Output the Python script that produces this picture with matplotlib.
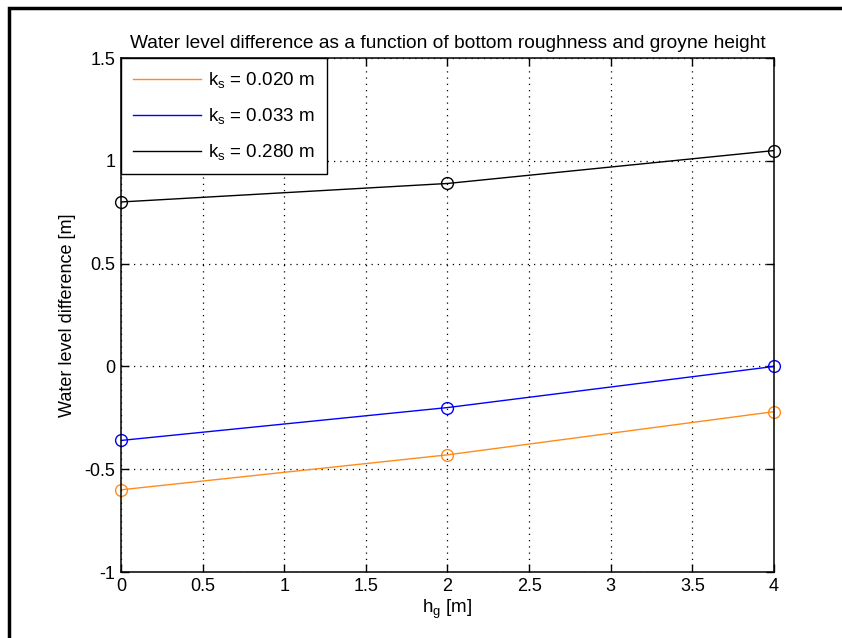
"""Water level difference vs groyne height for three bottom roughness values."""
import matplotlib

matplotlib.use("Agg")
import matplotlib.pyplot as plt
from matplotlib.patches import Rectangle

plt.rcParams["font.family"] = ["Liberation Sans", "DejaVu Sans"]
plt.rcParams["mathtext.fontset"] = "custom"
plt.rcParams["mathtext.rm"] = "Liberation Sans"
plt.rcParams["mathtext.it"] = "Liberation Sans"
plt.rcParams["mathtext.default"] = "rm"

hg = [0, 2, 4]
dh_020 = [-0.60, -0.43, -0.22]
dh_033 = [-0.36, -0.20, 0.00]
dh_280 = [0.80, 0.89, 1.05]
series = [
    ("k$_s$ = 0.020 m", dh_020, "#ff8c1a"),
    ("k$_s$ = 0.033 m", dh_033, "#0000ff"),
    ("k$_s$ = 0.280 m", dh_280, "#000000"),
]
xticks = [0, 0.5, 1, 1.5, 2, 2.5, 3, 3.5, 4]
yticks = [-1, -0.5, 0, 0.5, 1, 1.5]

fig = plt.figure(figsize=(8.42, 6.38), dpi=100)
ax = fig.add_axes([0.1437, 0.1034, 0.9192 - 0.1437, 0.909 - 0.1034])

# partial outer frame (left and top edges)
fig.patches.append(Rectangle((0.011, -0.1), 1.2, 1.088, transform=fig.transFigure,
                             fill=False, edgecolor="black", linewidth=2.5))

for label, vals, col in series:
    ax.plot(hg, vals, color=col, linewidth=1.0, label=label)
for label, vals, col in series:
    ax.plot(hg, vals, linestyle="none", marker="o", markersize=8.5, clip_on=False,
            markerfacecolor="none", markeredgecolor=col, markeredgewidth=1.0)

ax.set_xlim(0, 4)
ax.set_ylim(-1, 1.5)
ax.set_xticks(xticks)
ax.set_xticklabels([f"{t:g}" for t in xticks])
ax.set_yticks(yticks)
ax.set_yticklabels([f"{t:g}" for t in yticks])
ax.tick_params(direction="in", length=6, width=1, labelsize=13, pad=4,
               top=True, right=True)
ax.grid(True, color="black", linestyle=(0, (1, 4)), linewidth=0.9)
for s in ax.spines.values():
    s.set_linewidth(1.1)

ax.set_title("Water level difference as a function of bottom roughness and groyne height",
             fontsize=13.8, pad=7)
ax.set_xlabel("h$_g$ [m]", fontsize=13.5, labelpad=2)
ax.set_ylabel("Water level difference [m]", fontsize=13, labelpad=6)

leg = ax.legend(loc="upper left", fontsize=13.5, handlelength=3.6, handletextpad=0.4,
                borderaxespad=0.0, borderpad=0.65, labelspacing=0.85,
                fancybox=False, framealpha=1)
leg.get_frame().set_edgecolor("black")
leg.get_frame().set_linewidth(1.0)

fig.savefig("out.png", dpi=100, facecolor="white")
